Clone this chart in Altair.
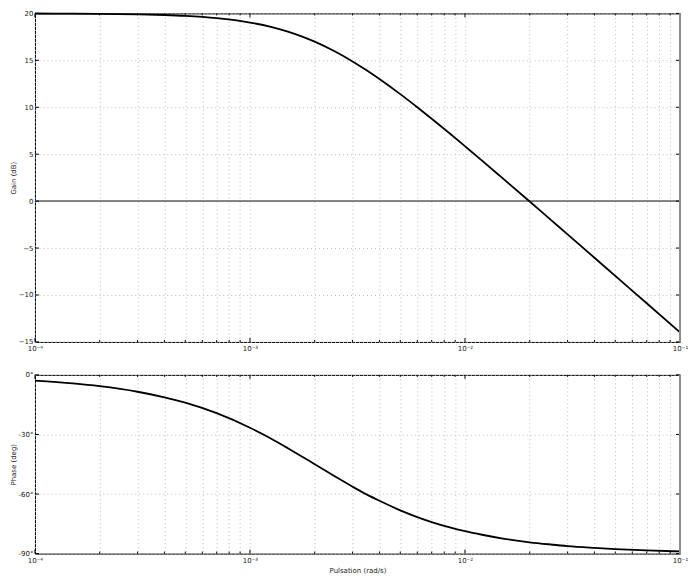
import altair as alt
import pandas as pd

# Pulsation (rad/s), gain (dB) and phase (deg)
freq = [1e-4, 1.5e-4, 2e-4, 3e-4, 4e-4, 5e-4, 7e-4, 1e-3, 1.25e-3, 1.5e-3, 1.75e-3,
        2e-3, 2.5e-3, 3e-3, 3.5e-3, 4e-3, 5e-3, 6e-3, 7e-3, 8.5e-3, 1e-2, 1.2e-2, 1.5e-2,
        2e-2, 2.5e-2, 3e-2, 4e-2, 5e-2, 7e-2, 1e-1]
gain = [19.99, 19.98, 19.96, 19.90, 19.83, 19.74, 19.50, 19.03, 18.57, 18.06, 17.53,
        16.99, 15.91, 14.88, 13.91, 13.01, 11.40, 10.00, 8.78, 7.20, 5.85, 4.32, 2.42,
        -0.04, -1.97, -3.54, -6.03, -7.97, -10.88, -13.98]
phase = [-2.9, -4.3, -5.7, -8.5, -11.3, -14.0, -19.3, -26.6, -32.0, -36.9, -41.2,
         -45.0, -51.3, -56.3, -60.3, -63.4, -68.2, -71.6, -74.1, -76.8, -78.7, -80.5, -82.4,
         -84.3, -85.4, -86.2, -87.1, -87.7, -88.4, -88.9]

x_major = [1e-4, 1e-3, 1e-2, 1e-1]
x_minor = [m * d for d in [1e-4, 1e-3, 1e-2] for m in range(2, 10)]
gain_ticks = [-15, -10, -5, 0, 5, 10, 15, 20]
phase_ticks = [-90, -60, -30, 0]

W = 646
H1 = 329
H2 = 179

df = pd.DataFrame({"f": freq, "g": gain, "p": phase})
df_major = pd.DataFrame({"f": x_major})
df_minor = pd.DataFrame({"f": x_minor})
df_gt = pd.DataFrame({"v": gain_ticks})
df_pt = pd.DataFrame({"v": phase_ticks})

xscale = alt.Scale(type="log", domain=[1e-4, 1e-1], nice=False)
e = "round(log(datum.value)/LN10)"
lab = ("abs(datum.value/pow(10," + e + ")-1) > 0.01 ? '' : "
       "(" + e + " == -4 ? '10⁻⁴' : " + e + " == -3 ? '10⁻³' : " + e + " == -2 ? '10⁻²' : '10⁻¹')")

GRID = dict(grid=True, gridDash=[1, 3], gridColor="#bdbdbd", gridWidth=1)


def xaxis(title):
    kw = dict(values=sorted(x_major + x_minor), labelExpr=lab, ticks=False, domain=False,
              labelFlush=False, labelOverlap=False, labelPadding=3, titlePadding=3, **GRID)
    kw["title"] = title if title else None
    return alt.Axis(**kw)


def panel(field, df_ticks, yaxis, ydomain, H, xtitle, zero_line):
    X = alt.X("f:Q", scale=xscale, axis=xaxis(xtitle))
    yscale = alt.Scale(domain=ydomain, nice=False, zero=False)
    Yv = alt.Y("v:Q", scale=yscale, axis=yaxis)
    layers = []
    if zero_line:
        layers.append(alt.Chart(df_major).mark_rule(color="#808080", strokeWidth=1.5).encode(
            y=alt.datum(0)))
    layers.append(alt.Chart(df).mark_line(color="black", strokeWidth=1.8, interpolate="monotone").encode(
        x=X, y=alt.Y(field + ":Q", scale=yscale, axis=yaxis)))
    # inward x ticks: majors (4px) and minors (2px), bottom and top
    for d, L in [(df_major, 4), (df_minor, 2)]:
        layers.append(alt.Chart(d).mark_rule(color="black", strokeWidth=1).encode(
            x=X, y=alt.value(H), y2=alt.value(H - L)))
        layers.append(alt.Chart(d).mark_rule(color="black", strokeWidth=1).encode(
            x=X, y=alt.value(0), y2=alt.value(L)))
    # inward y ticks left and right
    layers.append(alt.Chart(df_ticks).mark_rule(color="black", strokeWidth=1).encode(
        y=Yv, x=alt.value(0), x2=alt.value(4)))
    layers.append(alt.Chart(df_ticks).mark_rule(color="black", strokeWidth=1).encode(
        y=Yv, x=alt.value(W - 4), x2=alt.value(W)))
    # gray right spine
    layers.append(alt.Chart(df_major).mark_rule(color="#8c8c8c", strokeWidth=2).encode(
        x=alt.datum(0.1)))
    return alt.layer(*layers).properties(width=W, height=H)


gain_axis = alt.Axis(values=gain_ticks, title="Gain (dB)", ticks=False, domain=False,
                     labelFlush=False, labelOverlap=False, labelPadding=2, titlePadding=2, **GRID)
phase_axis = alt.Axis(values=phase_ticks, title="Phase (deg)", ticks=False, domain=False,
                      labelExpr="datum.value + '°'",
                      labelFlush=False, labelOverlap=False, labelPadding=2, titlePadding=2, **GRID)

top = panel("g", df_gt, gain_axis, [-15, 20], H1, None, True)
bottom = panel("p", df_pt, phase_axis, [-90, 0], H2, "Pulsation (rad/s)", False)

chart = alt.vconcat(top, bottom, spacing=17).configure(
    padding=0, font="DejaVu Sans"
).configure_view(
    stroke="black", strokeWidth=1
).configure_axis(
    labelFont="DejaVu Sans", titleFont="DejaVu Sans", labelFontSize=7, titleFontSize=7,
    labelColor="#222222", titleColor="#222222", titleFontWeight="normal"
)

chart.save("out.html", embed_options={"renderer": "svg", "actions": False})
